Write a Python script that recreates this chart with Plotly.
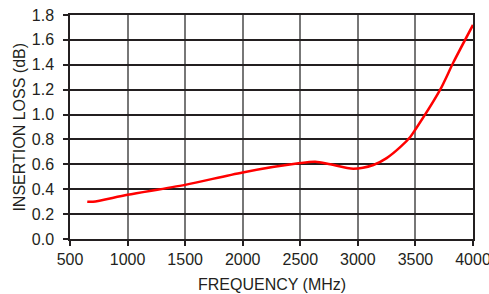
import plotly.graph_objects as go

freq_mhz = [650, 700, 1000, 1500, 2000, 2500, 2630, 2760, 2960, 3135, 3250, 3370, 3455, 3500, 3715, 3830, 4000]
loss_db = [0.30, 0.30, 0.355, 0.435, 0.535, 0.61, 0.62, 0.60, 0.565, 0.595, 0.65, 0.74, 0.82, 0.88, 1.20, 1.42, 1.72]

x_ticks = [500, 1000, 1500, 2000, 2500, 3000, 3500, 4000]
y_ticks = [0.0, 0.2, 0.4, 0.6, 0.8, 1.0, 1.2, 1.4, 1.6, 1.8]

x_title = "FREQUENCY (MHz)"
y_title = "INSERTION LOSS (dB)"

fig = go.Figure()
fig.add_trace(go.Scatter(
    x=freq_mhz, y=loss_db, mode="lines",
    line=dict(color="#ff0000", width=2.5, shape="spline", smoothing=0.8),
    showlegend=False, hoverinfo="skip",
))

font = dict(family="Liberation Sans, Arial, sans-serif", size=16, color="#231f20")

fig.update_layout(
    width=489, height=294,
    margin=dict(l=69.5, r=16, t=14.5, b=54.5, autoexpand=False),
    paper_bgcolor="white", plot_bgcolor="white",
    font=font,
    xaxis=dict(
        range=[500, 4000], tickvals=x_ticks, ticktext=[str(v) for v in x_ticks],
        showgrid=True, gridcolor="#777777", gridwidth=1.5,
        showline=True, linecolor="#231f20", linewidth=1.5, mirror=True,
        ticks="outside", ticklen=5, tickcolor="#231f20", tickwidth=1.5,
        tickfont=font, automargin=False, ticklabeloverflow="allow",
        zeroline=False, fixedrange=True,
    ),
    yaxis=dict(
        range=[0, 1.8], tickvals=y_ticks, ticktext=[f"{v:.1f}" for v in y_ticks],
        showgrid=True, gridcolor="#231f20", gridwidth=1.5,
        showline=True, linecolor="#231f20", linewidth=1.5, mirror=True,
        ticks="outside", ticklen=5, tickcolor="#231f20", tickwidth=1.5,
        tickfont=font, automargin=False, ticklabelstandoff=6,
        zeroline=False, fixedrange=True,
    ),
    annotations=[
        dict(text=x_title, xref="paper", yref="paper", x=0.5, y=-0.205,
             xanchor="center", yanchor="middle", showarrow=False, font=font),
        dict(text=y_title, xref="paper", yref="paper", x=-0.1276, y=0.5,
             xanchor="center", yanchor="middle", textangle=-90, showarrow=False, font=font),
    ],
)

fig.write_html(
    "out.html",
    config={"displayModeBar": False},
    post_script="document.body.style.margin='0';document.body.style.overflow='hidden';",
)
